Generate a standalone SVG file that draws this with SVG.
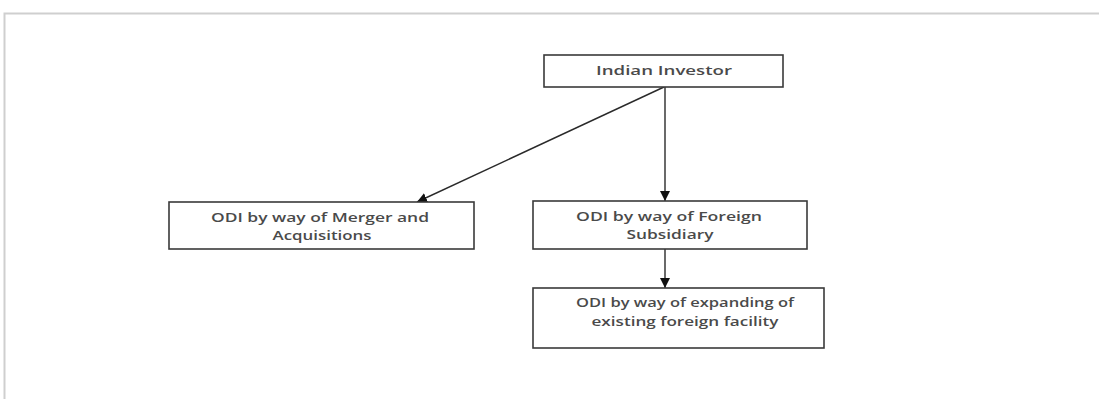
<svg xmlns="http://www.w3.org/2000/svg" width="1099" height="399" viewBox="0 0 1099 399">
<style>
.box{fill:#fff;stroke:#3a3a3a;stroke-width:1.6}
.t{font-family:"Open Sans","Liberation Sans",sans-serif;font-size:13px;font-weight:600;fill:#4a4a4a;text-anchor:middle}
.c{stroke:#2a2a2a;stroke-width:1.4;fill:none}
</style>
<defs>
<marker id="ah" viewBox="0 0 10 10" refX="10" refY="5" markerWidth="10" markerHeight="10" markerUnits="userSpaceOnUse" orient="auto">
<path d="M0,0 L10,5 L0,10 Z" fill="#111"/>
</marker>
</defs>
<rect x="0" y="0" width="1099" height="399" fill="#fff"/>
<path d="M4.5,399 L4.5,13.5 L1099,13.5" fill="none" stroke="#cfcfcf" stroke-width="2"/>
<g id="connectors">
<line class="c" x1="664" y1="87" x2="417" y2="202" marker-end="url(#ah)"/>
<line class="c" x1="665" y1="87" x2="665" y2="201" marker-end="url(#ah)"/>
<line class="c" x1="665" y1="249" x2="665" y2="288" marker-end="url(#ah)"/>
</g>
<g id="investor">
<rect class="box" x="544" y="55" width="239" height="32"/>
<text class="t" x="664" y="75" textLength="136" lengthAdjust="spacingAndGlyphs">Indian Investor</text>
</g>
<g id="merger">
<rect class="box" x="169" y="202" width="305" height="47"/>
<text class="t" x="320" y="222" textLength="218" lengthAdjust="spacingAndGlyphs">ODI by way of Merger and</text>
<text class="t" x="322" y="240" textLength="99" lengthAdjust="spacingAndGlyphs">Acquisitions</text>
</g>
<g id="subsidiary">
<rect class="box" x="533" y="201" width="274" height="48"/>
<text class="t" x="669" y="221" textLength="186" lengthAdjust="spacingAndGlyphs">ODI by way of Foreign</text>
<text class="t" x="670" y="239" textLength="87" lengthAdjust="spacingAndGlyphs">Subsidiary</text>
</g>
<g id="expanding">
<rect class="box" x="533" y="288" width="291" height="60"/>
<text class="t" x="685" y="307" textLength="218" lengthAdjust="spacingAndGlyphs">ODI by way of expanding of</text>
<text class="t" x="685" y="326" textLength="187" lengthAdjust="spacingAndGlyphs">existing foreign facility</text>
</g>
</svg>
